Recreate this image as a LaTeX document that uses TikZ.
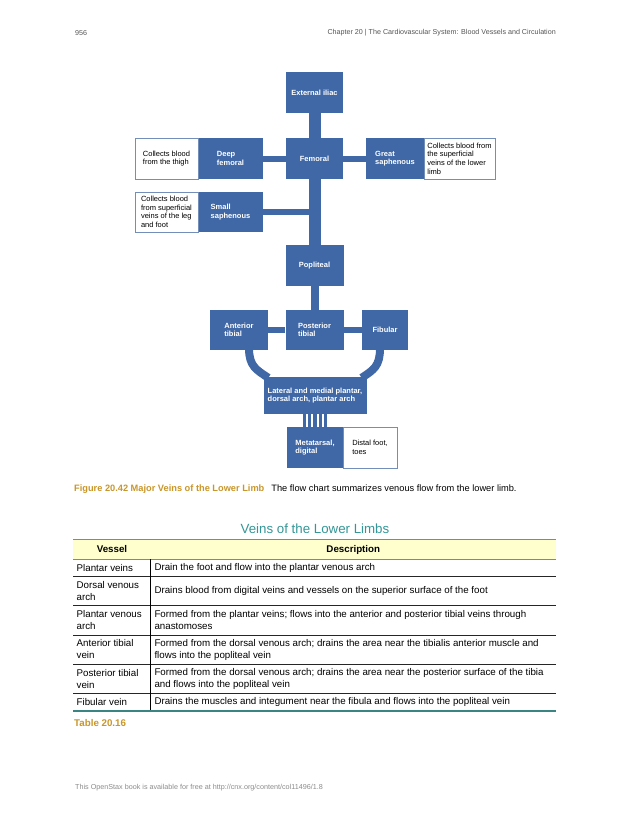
\documentclass[tikz,border=0pt]{standalone}
\usepackage{fontspec}
\setmainfont{Liberation Sans}
\usetikzlibrary{calc,backgrounds}
\definecolor{vblue}{RGB}{64,104,166}
\definecolor{vborder}{RGB}{115,142,185}
\definecolor{vgold}{RGB}{201,150,42}
\definecolor{vteal}{RGB}{52,150,150}
\definecolor{vtealline}{RGB}{78,160,155}
\definecolor{vtealdark}{RGB}{58,132,132}
\definecolor{vyellow}{RGB}{255,255,206}
\definecolor{vgray}{RGB}{85,85,85}
\definecolor{vlight}{RGB}{140,140,140}
\begin{document}
\begin{tikzpicture}[x=1pt,y=-1pt,
  bluebox/.style={fill=vblue, text=white, font=\fontsize{7.5}{8.5}\selectfont\bfseries,
    align=left, inner sep=0pt, minimum width=#1, minimum height=41pt},
  notebox/.style={fill=white, draw=vborder, line width=0.6pt, text=black,
    font=\fontsize{7.5}{8.6}\selectfont, align=left, inner sep=0pt,
    minimum width=#1, minimum height=41pt},
  trunk/.style={draw=vblue, line width=12pt},
  femlink/.style={draw=vblue, line width=6pt},
  poplink/.style={draw=vblue, line width=8pt},
  tiblink/.style={draw=vblue, line width=5.5pt},
  archlink/.style={draw=vblue, line width=8pt},
  stripe/.style={draw=vblue, line width=3.2pt},
  celltext/.style={anchor=west, inner sep=0pt, align=left, font=\fontsize{9.75}{12}\selectfont},
  headtext/.style={inner sep=0pt, font=\fontsize{9.75}{11}\selectfont\bfseries},
  rowline/.style={draw=black!85, line width=0.9pt}
]
\useasboundingbox (0,0) rectangle (630,815);

% page header and footer
\node[anchor=west, inner sep=0pt, text=vgray, font=\fontsize{7.15}{8}\selectfont] (pg) at (75,33) {956};
\node[anchor=east, inner sep=0pt, text=vgray, font=\fontsize{7.15}{8}\selectfont] (chap) at (556,33) {Chapter 20 | The Cardiovascular System: Blood Vessels and Circulation};
\node[anchor=west, inner sep=0pt, text=vlight, font=\fontsize{7.2}{8}\selectfont] (foot) at (75,788) {This OpenStax book is available for free at http://cnx.org/content/col11496/1.8};

% flow chart boxes
\node[bluebox=57pt] (extil) at (314.5,92.5) {External iliac};
\node[bluebox=57pt] (fem) at (314.5,158.5) {Femoral};
\node[bluebox=65pt] (deep) at (230.5,158.5) {Deep\\femoral};
\node[notebox=63pt] (deepn) at (166.5,158.5) {Collects blood\\from the thigh};
\node[bluebox=58pt] (great) at (395,158.5) {Great\\saphenous};
\node[notebox=71pt] (greatn) at (459.5,158.5) {Collects blood from\\the superficial\\veins of the lower\\limb};
\node[bluebox=65pt, minimum height=40pt] (small) at (230.5,212) {Small\\saphenous};
\node[notebox=63pt, minimum height=40pt] (smalln) at (166.5,212) {Collects blood\\from superficial\\veins of the leg\\and foot};
\node[bluebox=58pt] (popl) at (314.5,265.5) {Popliteal};
\node[bluebox=58pt, minimum height=40pt] (ant) at (239,330) {Anterior\\tibial};
\node[bluebox=58pt, minimum height=40pt] (post) at (314.5,330) {Posterior\\tibial};
\node[bluebox=46pt, minimum height=40pt] (fib) at (385,330) {Fibular};
\node[bluebox=103pt, minimum height=37pt] (plant) at (315,395.5) {Lateral and medial plantar,\\dorsal arch, plantar arch};
\node[bluebox=56pt] (meta) at (315,447.5) {Metatarsal,\\digital};
\node[notebox=54pt] (metan) at (370,447.5) {Distal foot,\\toes};

% connectors
\begin{scope}[on background layer]
\fill[white] (0,0) rectangle (630,815);
\draw[trunk] (extil.south) -- (popl.north);
\draw[femlink] (deep.east) -- (fem.west);
\draw[femlink] (fem.east) -- (great.west);
\draw[femlink] (small.east) -- (small.east -| fem.center);
\draw[poplink] (popl.south) -- (post.north);
\draw[tiblink] (ant.east) -- (post.west);
\draw[tiblink] (post.east) -- (fib.west);
\draw[archlink] ($(ant.south)+(10,-2)$) .. controls +(0,18) and +(-12,-8) .. ($(plant.north west)+(5,1)$);
\draw[archlink] ($(fib.south)+(-5,-2)$) .. controls +(0,18) and +(12,-8) .. ($(plant.north east)+(-5,1)$);
\foreach \dx in {-10.4,-5.2,0,5.2,10.4}
  \draw[stripe] ($(plant.south)+(\dx,-1)$) -- ($(meta.north)+(\dx,1)$);
\end{scope}

% caption
\node[anchor=west, inner sep=0pt, font=\fontsize{9.25}{11}\selectfont] (cap) at (74,489)
  {\textcolor{vgold}{\bfseries Figure 20.42 Major Veins of the Lower Limb}\hspace{7pt}The flow chart summarizes venous flow from the lower limb.};

% table
\node[inner sep=0pt, text=vteal, font=\fontsize{13.3}{15}\selectfont] (ttl) at (315,529) {Veins of the Lower Limbs};
\fill[vyellow] (73.3,539.3) rectangle (556,559.3);
\draw[vtealline, line width=1.3pt] (73.3,539.3) -- (556,539.3);
\draw[vtealline, line width=1.3pt] (73.3,559.3) -- (556,559.3);
\node[headtext] (hv) at (112,549.5) {Vessel};
\node[headtext] (hd) at (353.3,549.5) {Description};
\foreach \yy in {576.7,605.7,635,664,693}
  \draw[rowline] (73.3,\yy) -- (556,\yy);
\draw[black, line width=1.2pt] (150.7,559.3) -- (150.7,711);
\draw[vtealdark, line width=2pt] (73.3,711) -- (556,711);

\node[celltext] (a1) at (76.5,568) {Plantar veins};
\node[celltext] (b1) at (154.3,568) {Drain the foot and flow into the plantar venous arch};
\node[celltext] (a2) at (76.5,591.2) {Dorsal venous\\arch};
\node[celltext] (b2) at (154.3,591.2) {Drains blood from digital veins and vessels on the superior surface of the foot};
\node[celltext] (a3) at (76.5,620.3) {Plantar venous\\arch};
\node[celltext] (b3) at (154.3,620.3) {Formed from the plantar veins; flows into the anterior and posterior tibial veins through\\anastomoses};
\node[celltext] (a4) at (76.5,649.5) {Anterior tibial\\vein};
\node[celltext] (b4) at (154.3,649.5) {Formed from the dorsal venous arch; drains the area near the tibialis anterior muscle and\\flows into the popliteal vein};
\node[celltext] (a5) at (76.5,678.6) {Posterior tibial\\vein};
\node[celltext] (b5) at (154.3,678.6) {Formed from the dorsal venous arch; drains the area near the posterior surface of the tibia\\and flows into the popliteal vein};
\node[celltext] (a6) at (76.5,702.2) {Fibular vein};
\node[celltext] (b6) at (154.3,702.2) {Drains the muscles and integument near the fibula and flows into the popliteal vein};

\node[anchor=west, inner sep=0pt, text=vgold, font=\fontsize{9.75}{11}\selectfont\bfseries] (tbl) at (74,722.7) {Table 20.16};
\end{tikzpicture}
\end{document}
